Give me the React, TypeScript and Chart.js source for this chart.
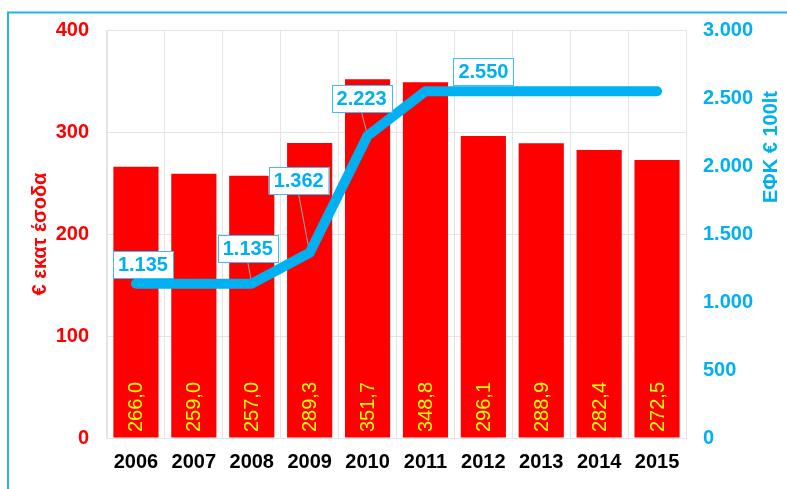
import React, { useEffect, useRef } from "react";
import { Chart, registerables } from "chart.js";

Chart.register(...registerables);

const years = ["2006", "2007", "2008", "2009", "2010", "2011", "2012", "2013", "2014", "2015"];
const revenue = [266.0, 259.0, 257.0, 289.3, 351.7, 348.8, 296.1, 288.9, 282.4, 272.5];
const excise = [1135, 1135, 1135, 1362, 2223, 2550, 2550, 2550, 2550, 2550];
const leftTickMin = 0;
const leftTickMax = 400;
const leftTickStep = 100;
const rightTickMin = 0;
const rightTickMax = 3000;
const rightTickStep = 500;
const labeledPointIndexes = [0, 2, 3, 4, 5];
const leftTitle = "€ εκατ έσοδα";
const rightTitle = "ΕΦΚ € 100lt";

// styling: label offsets (px) from each labeled point, and whether a leader line is drawn
const labelStyle = [
  { dx: 7, dy: -19, leader: false },
  { dx: -4, dy: -35, leader: true },
  { dx: -11, dy: -72, leader: true },
  { dx: -6, dy: -37, leader: true },
  { dx: 58, dy: -20, leader: false },
];

const FONT = "'Liberation Sans', Arial, sans-serif";
const RED = "#FF0000";
const BLUE = "#00B0F0";
const GRID = "#e4e4e4";

const fmtThousands = (v: number) => {
  const s = Math.round(v).toString();
  return s.replace(/\B(?=(\d{3})+(?!\d))/g, ".");
};
const fmtDecimal = (v: number) => v.toFixed(1).replace(".", ",");

export default function App() {
  const ref = useRef<HTMLCanvasElement | null>(null);

  useEffect(() => {
    document.body.style.overflow = "hidden";
    const canvas = ref.current;
    if (!canvas) return;

    const framePlugin = {
      id: "frame",
      beforeDraw(chart: any) {
        const ctx = chart.ctx;
        ctx.save();
        ctx.fillStyle = "#ffffff";
        ctx.fillRect(0, 0, chart.width, chart.height);
        ctx.strokeStyle = "#22B2EE";
        ctx.lineWidth = 2;
        ctx.beginPath();
        ctx.moveTo(8, chart.height + 10);
        ctx.lineTo(8, 12.5);
        ctx.lineTo(chart.width + 10, 12.5);
        ctx.stroke();
        ctx.restore();
      },
    };

    const leaderPlugin = {
      id: "leaders",
      beforeDatasetDraw(chart: any, args: any) {
        if (args.index !== 0) return;
        const ctx = chart.ctx;
        const meta = chart.getDatasetMeta(0);
        ctx.save();
        ctx.strokeStyle = "#a8a8a8";
        ctx.lineWidth = 1;
        labeledPointIndexes.forEach((idx, k) => {
          const st = labelStyle[k];
          if (!st.leader) return;
          const p = meta.data[idx];
          const cx = p.x + st.dx;
          const cy = p.y + st.dy;
          ctx.beginPath();
          ctx.moveTo(cx, cy + 13.5);
          ctx.lineTo(p.x, p.y);
          ctx.stroke();
        });
        ctx.restore();
      },
    };

    const labelsPlugin = {
      id: "labels",
      afterDatasetsDraw(chart: any) {
        const ctx = chart.ctx;
        const area = chart.chartArea;
        // bar value labels
        const barMeta = chart.getDatasetMeta(1);
        ctx.save();
        ctx.fillStyle = "#FFFF00";
        ctx.font = `normal 20px ${FONT}`;
        ctx.textAlign = "left";
        ctx.textBaseline = "middle";
        barMeta.data.forEach((bar: any, i: number) => {
          ctx.save();
          ctx.translate(bar.x, area.bottom - 6);
          ctx.rotate(-Math.PI / 2);
          ctx.fillText(fmtDecimal(revenue[i]), 0, 1);
          ctx.restore();
        });
        ctx.restore();

        // line labels
        const lineMeta = chart.getDatasetMeta(0);
        ctx.save();
        ctx.font = `bold 20px ${FONT}`;
        ctx.textAlign = "center";
        ctx.textBaseline = "middle";
        labeledPointIndexes.forEach((idx, k) => {
          const st = labelStyle[k];
          const p = lineMeta.data[idx];
          const cx = p.x + st.dx;
          const cy = p.y + st.dy;
          const text = fmtThousands(excise[idx]);
          const w = ctx.measureText(text).width + 10;
          const h = 27;
          ctx.fillStyle = "#ffffff";
          ctx.fillRect(cx - w / 2, cy - h / 2, w, h);
          ctx.strokeStyle = "#3DBDF0";
          ctx.lineWidth = 1;
          ctx.strokeRect(Math.round(cx - w / 2) + 0.5, Math.round(cy - h / 2) + 0.5, Math.round(w), h);
          ctx.fillStyle = BLUE;
          ctx.fillText(text, cx, cy + 1);
        });
        ctx.restore();

        // axis titles
        ctx.save();
        ctx.font = `bold 20px ${FONT}`;
        ctx.textAlign = "center";
        ctx.textBaseline = "middle";
        ctx.fillStyle = RED;
        ctx.translate(40, (area.top + area.bottom) / 2);
        ctx.rotate(-Math.PI / 2);
        ctx.fillText(leftTitle, 0, 0);
        ctx.restore();

        ctx.save();
        ctx.font = `bold 20px ${FONT}`;
        ctx.textAlign = "center";
        ctx.textBaseline = "middle";
        ctx.fillStyle = BLUE;
        ctx.translate(771, 147);
        ctx.rotate(-Math.PI / 2);
        ctx.fillText(rightTitle, 0, 0);
        ctx.restore();
      },
    };

    const chart = new Chart(canvas, {
      type: "bar",
      data: {
        labels: years,
        datasets: [
          {
            type: "line",
            label: "ΕΦΚ",
            data: excise,
            yAxisID: "y1",
            borderColor: BLUE,
            backgroundColor: BLUE,
            borderWidth: 10,
            borderCapStyle: "round",
            borderJoinStyle: "round",
            pointRadius: 0,
            tension: 0,
            order: 0,
          } as any,
          {
            type: "bar",
            label: "Έσοδα",
            data: revenue,
            yAxisID: "y",
            backgroundColor: RED,
            borderWidth: 0,
            barPercentage: 0.78,
            categoryPercentage: 1.0,
            order: 1,
          } as any,
        ],
      },
      options: {
        responsive: false,
        animation: false,
        devicePixelRatio: 1,
        layout: { padding: { top: 25, left: 0, right: 0, bottom: 0 } },
        plugins: {
          legend: { display: false },
          tooltip: { enabled: false },
          title: { display: false },
        },
        scales: {
          x: {
            grid: { color: GRID, drawTicks: false, offset: true },
            border: { color: GRID },
            ticks: {
              color: "#000000",
              font: { family: FONT, size: 20, weight: "bold" },
              padding: 12,
              maxRotation: 0,
            },
            afterFit: (s: any) => {
              s.height = 51;
            },
          },
          y: {
            position: "left",
            min: leftTickMin,
            max: leftTickMax,
            grid: { color: GRID, drawTicks: false },
            border: { color: GRID },
            ticks: {
              stepSize: leftTickStep,
              color: RED,
              padding: 18,
              font: { family: FONT, size: 20, weight: "bold" },
            },
            afterFit: (s: any) => {
              s.width = 107;
            },
          },
          y1: {
            position: "right",
            min: rightTickMin,
            max: rightTickMax,
            grid: { display: false, drawTicks: false },
            border: { color: GRID },
            ticks: {
              stepSize: rightTickStep,
              color: BLUE,
              padding: 17,
              font: { family: FONT, size: 20, weight: "bold" },
              callback: (v: any) => fmtThousands(Number(v)),
            },
            afterFit: (s: any) => {
              s.width = 101;
            },
          },
        },
      } as any,
      plugins: [framePlugin, leaderPlugin, labelsPlugin],
    });

    return () => {
      chart.destroy();
    };
  }, []);

  return (
    <div style={{ position: "fixed", left: 0, top: 0, width: 787, height: 489 }}>
      <canvas ref={ref} width={787} height={489} style={{ display: "block", width: 787, height: 489 }} />
    </div>
  );
}
